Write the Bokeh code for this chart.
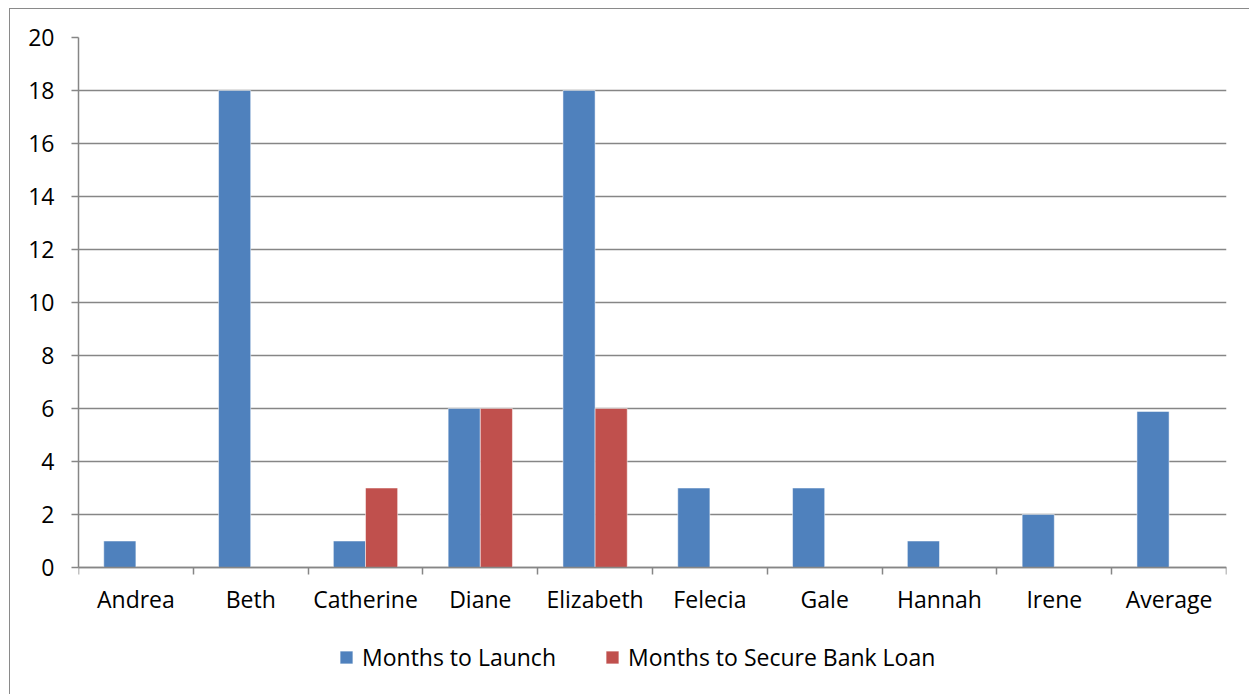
from bokeh.plotting import figure
from bokeh.models import FixedTicker, Legend, LegendItem, Range1d
from bokeh.embed import file_html
from bokeh.resources import INLINE

categories = ["Andrea", "Beth", "Catherine", "Diane", "Elizabeth", "Felecia", "Gale", "Hannah", "Irene", "Average"]
months_to_launch = [1, 18, 1, 6, 18, 3, 3, 1, 2, 5.89]
months_to_loan = [0, 0, 3, 6, 6, 0, 0, 0, 0, 0]
y_ticks = [0, 2, 4, 6, 8, 10, 12, 14, 16, 18, 20]

BLUE = "#4F81BD"
RED = "#C0504D"
GRID = "#868686"
FONT = "Open Sans"
FS = "23px"

n = len(categories)
centers = [i + 0.5 for i in range(n)]
bw = 0.28

# frame extends below zero so that category labels and legend sit inside it
p = figure(frame_width=1148, frame_height=658, output_backend="svg", toolbar_location=None,
           x_range=Range1d(0, n), y_range=Range1d(-4.83, 20),
           min_border_left=68, min_border_right=24, min_border_top=28, min_border_bottom=0,
           margin=(8, 0, 0, 9))
p.styles = {"border-left": "1px solid #8a8a8a", "border-top": "1px solid #8a8a8a"}
p.outline_line_color = None
p.background_fill_color = "white"
p.border_fill_color = "white"

# gridlines
p.xgrid.visible = False
p.ygrid.ticker = FixedTicker(ticks=y_ticks)
p.ygrid.grid_line_color = GRID
p.ygrid.grid_line_width = 1.5

r1 = p.vbar(x=[c - bw / 2 for c in centers], top=months_to_launch, width=bw,
            fill_color=BLUE, line_color="white", line_alpha=0.5, line_width=1)
r2 = p.vbar(x=[c + bw / 2 for c in centers], top=months_to_loan, width=bw,
            fill_color=RED, line_color="white", line_alpha=0.5, line_width=1)

# y axis
ya = p.yaxis[0]
ya.ticker = FixedTicker(ticks=y_ticks)
ya.bounds = (0, 20)
ya.axis_line_color = GRID
ya.axis_line_width = 1.5
ya.major_tick_line_color = GRID
ya.major_tick_line_width = 1.5
ya.major_tick_out = 7
ya.major_tick_in = 0
ya.minor_tick_line_color = None
ya.major_label_text_font = FONT
ya.major_label_text_font_size = FS
ya.major_label_text_color = "black"
ya.major_label_standoff = 17

# x axis at zero
xa = p.xaxis[0]
xa.fixed_location = 0
xa.ticker = FixedTicker(ticks=centers, minor_ticks=list(range(n + 1)))
xa.major_label_overrides = {c: name for c, name in zip(centers, categories)}
xa.axis_line_color = GRID
xa.axis_line_width = 1.5
xa.major_tick_line_color = None
xa.minor_tick_line_color = GRID
xa.minor_tick_line_width = 1.5
xa.minor_tick_out = 7
xa.minor_tick_in = 0
xa.major_label_text_font = FONT
xa.major_label_text_font_size = FS
xa.major_label_text_color = "black"
xa.major_label_standoff = 8

legend = Legend(items=[LegendItem(label="Months to Launch", renderers=[r1]),
                       LegendItem(label="Months to Secure Bank Loan", renderers=[r2])],
                orientation="horizontal", location=(260, 22),
                glyph_width=16, glyph_height=16, label_standoff=8, spacing=48,
                label_text_font=FONT, label_text_font_size=FS, label_text_color="black",
                border_line_alpha=0, background_fill_alpha=0, margin=0, padding=0)
p.add_layout(legend, "center")

open("out.html", "w").write(file_html(p, INLINE))
